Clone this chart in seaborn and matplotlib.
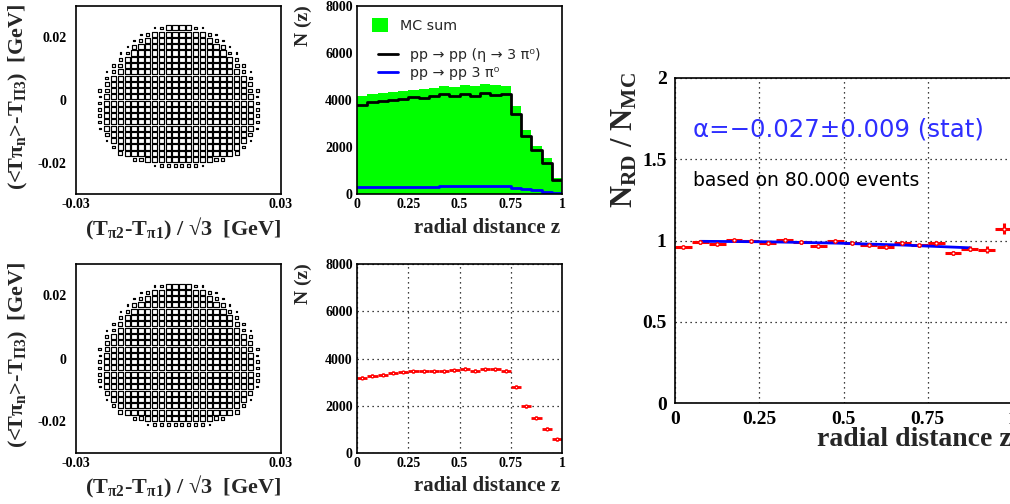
import matplotlib
matplotlib.use("Agg")
import matplotlib.pyplot as plt
from matplotlib.patches import Rectangle, Patch
from matplotlib.lines import Line2D
from matplotlib.collections import PatchCollection
import seaborn as sns
import pandas as pd

# --- Dalitz plots: right half of every row (mirrored to the left) ---
# cell k of a row is centred at x = (2k+1)*0.001 GeV
# '#' full box, 'O' medium, 'o' small, '.' tiny
dalitz_y = [0.023, 0.021, 0.019, 0.017, 0.015, 0.013, 0.011, 0.009, 0.007,
            0.005, 0.003, 0.001, -0.001, -0.003, -0.005, -0.007, -0.009,
            -0.011, -0.013, -0.015, -0.017, -0.019, -0.021]
dalitz_mc = ["##o.", "####o.", "#####o.", "######O.", "#######o.",
             "########o", "########Oo", "#########o.", "##########o",
             "##########O", "##########Oo", "###########.", "###########o",
             "###########o", "###########o", "###########o", "###########.",
             "##########O", "##########.", "#########o", "########O",
             "#####Oo", "ooo."]
dalitz_data = ["##o.", "####o.", "#####o.", "######O.", "#######o.",
               "########o", "########Oo", "#########o.", "##########o",
               "##########O", "##########Oo", "###########.", "###########o",
               "###########o", "###########o", "###########o", "###########.",
               "##########O", "##########.", "#########o", "########O",
               "#####Oo", "oooo."]
box_frac = {"#": 0.8, "O": 0.6, "o": 0.42, ".": 0.18}

# --- radial distance z, 20 bins of 0.05 ---
z_mid = [0.025, 0.075, 0.125, 0.175, 0.225, 0.275, 0.325, 0.375, 0.425, 0.475,
         0.525, 0.575, 0.625, 0.675, 0.725, 0.775, 0.825, 0.875, 0.925, 0.975]
mc_sum = [4150, 4250, 4300, 4350, 4380, 4430, 4460, 4490, 4575, 4550,
          4630, 4575, 4660, 4620, 4600, 3725, 2730, 2050, 1530, 680]
eta_3pi0 = [3800, 3910, 3970, 4010, 4050, 4110, 4080, 4150, 4250, 4160,
            4260, 4190, 4300, 4230, 4250, 3400, 2480, 1880, 1320, 610]
direct_3pi0 = [280, 290, 300, 300, 310, 310, 310, 310, 320, 320,
               320, 320, 330, 330, 330, 260, 200, 150, 100, 60]
data_counts = [3195, 3265, 3320, 3405, 3430, 3460, 3460, 3460, 3460, 3500,
               3575, 3475, 3535, 3535, 3475, 2810, 1980, 1485, 1030, 580]
data_err = [60] * 20

ratio = [0.961, 0.988, 0.979, 1.002, 0.996, 0.986, 1.006, 0.988, 0.967, 0.994,
         0.984, 0.975, 0.959, 0.984, 0.971, 0.984, 0.924, 0.949, 0.944, 1.072]
ratio_err = [0.008, 0.008, 0.008, 0.008, 0.008, 0.008, 0.008, 0.008, 0.008, 0.008,
             0.008, 0.008, 0.008, 0.008, 0.008, 0.01, 0.012, 0.015, 0.02, 0.035]
fit_z = [0.075, 0.275, 0.475, 0.675, 0.875]
fit_ratio = [0.995, 0.992, 0.984, 0.972, 0.955]

sns.set_style("white")
plt.rcParams['font.family'] = ['Liberation Serif', 'DejaVu Serif']
plt.rcParams['font.weight'] = 'bold'
plt.rcParams['mathtext.fontset'] = 'custom'
plt.rcParams['mathtext.rm'] = 'Liberation Serif:bold'
plt.rcParams['mathtext.it'] = 'Liberation Serif:bold'
plt.rcParams['mathtext.bf'] = 'Liberation Serif:bold'
SANS = 'DejaVu Sans'

W, H = 1010, 504
fig = plt.figure(figsize=(W / 100, H / 100), dpi=100)


def px_axes(x0, y0, x1, y1):
    return fig.add_axes([x0 / W, 1 - y1 / H, (x1 - x0) / W, (y1 - y0) / H])


def style(ax, size):
    for s in ax.spines.values():
        s.set_color('black')
        s.set_linewidth(1.2)
    ax.tick_params(direction='in', length=6, width=1.2, labelsize=size,
                   colors='black', pad=3)


def dalitz(ax, rows):
    recs = []
    for yv, row in zip(dalitz_y, rows):
        for k, c in enumerate(row):
            xv = (2 * k + 1) * 0.001
            recs.append((xv, yv, c))
            recs.append((-xv, yv, c))
    df = pd.DataFrame(recs, columns=['x', 'y', 'box'])
    boxes = []
    for _, r in df.iterrows():
        f = box_frac[r['box']]
        w, h = 0.002 * f, 0.002 * f
        boxes.append(Rectangle((r['x'] - w / 2, r['y'] - h / 2), w, h))
    ax.add_collection(PatchCollection(boxes, facecolor='white',
                                      edgecolor='black', linewidth=0.85))
    ax.set_xlim(-0.03, 0.03)
    ax.set_ylim(-0.03, 0.03)
    ax.set_xticks([-0.03, 0.03])
    ax.set_xticklabels(['-0.03', '0.03'])
    ax.set_yticks([-0.02, 0, 0.02])
    ax.set_yticklabels(['-0.02', '0', '0.02'])
    style(ax, 10)
    ax.tick_params(axis='x', length=0, pad=3)
    ax.tick_params(axis='y', length=7, pad=7)


# ---------- left column: Dalitz plots ----------
ax_d1 = px_axes(76, 6, 281, 194)
dalitz(ax_d1, dalitz_mc)
ax_d2 = px_axes(76, 264, 281, 453)
dalitz(ax_d2, dalitz_data)

xlab = '(T$_{\\pi2}$-T$_{\\pi1}$) / \u221a3  [GeV]'
ylab = '(<T\u03c0$_{n}$>-T$_{\\Pi3}$)  [GeV]'
fig.text(281 / W, 1 - 229 / H, xlab, ha='right', va='center', fontsize=16)
fig.text(281 / W, 1 - 487 / H, xlab, ha='right', va='center', fontsize=16)
fig.text(18 / W, 1 - 4 / H, ylab, ha='center', va='top', rotation=90, fontsize=16)
fig.text(18 / W, 1 - 262 / H, ylab, ha='center', va='top', rotation=90, fontsize=16)

# ---------- top middle: MC histograms ----------
mc = pd.DataFrame({'z': z_mid, 'sum': mc_sum, 'eta': eta_3pi0, 'direct': direct_3pi0})
ax_mc = px_axes(357, 6, 562, 194)
hist_kw = dict(data=mc, x='z', binwidth=0.05, binrange=(0, 1), element='step', ax=ax_mc)
sns.histplot(weights='sum', fill=True, color='#00ff00', alpha=1, linewidth=0, **hist_kw)
sns.histplot(weights='eta', fill=False, color='black', linewidth=2, **hist_kw)
sns.histplot(weights='direct', fill=False, color='#0000ff', linewidth=2, **hist_kw)
leg_prop = {'family': SANS, 'weight': 'normal', 'size': 10.3}
leg1 = ax_mc.legend(handles=[Patch(facecolor='#00ff00', edgecolor='none', label='MC sum')],
                    loc='center left', bbox_to_anchor=(0.073, 0.895), frameon=False,
                    prop=leg_prop, handlelength=1.12, handleheight=1.1,
                    handletextpad=0.84, borderpad=0, borderaxespad=0)
ax_mc.add_artist(leg1)
ax_mc.legend(handles=[Line2D([], [], color='black', lw=2, label='pp \u2192 pp (\u03b7 \u2192 3 \u03c0\u2070)'),
                      Line2D([], [], color='#0000ff', lw=2, label='pp \u2192 pp 3 \u03c0\u2070')],
             loc='center left', bbox_to_anchor=(0.102, 0.69), frameon=False,
             prop=leg_prop, handlelength=1.4, handletextpad=0.84,
             labelspacing=0.25, borderpad=0, borderaxespad=0)

# ---------- bottom middle: real data ----------
ax_rd = px_axes(357, 264, 562, 453)
ax_rd.errorbar(z_mid, data_counts, xerr=0.025, yerr=data_err, fmt='o', ms=2,
               mfc='white', mec='red', color='red', elinewidth=2, capsize=0)
ax_rd.grid(True, linestyle=(0, (1, 3)), color='black', linewidth=0.9)

for ax in (ax_mc, ax_rd):
    ax.set_xlim(0, 1)
    ax.set_ylim(0, 8000)
    ax.set_xticks([0, 0.25, 0.5, 0.75, 1])
    ax.set_xticklabels(['0', '0.25', '0.5', '0.75', '1'])
    ax.set_yticks([0, 2000, 4000, 6000, 8000])
    ax.set_yticklabels(['0', '2000', '4000', '6000', '8000'])
    ax.set_xlabel('')
    ax.set_ylabel('')
    style(ax, 10)

fig.text(560 / W, 1 - 228 / H, 'radial distance z', ha='right', va='center', fontsize=15)
fig.text(560 / W, 1 - 486 / H, 'radial distance z', ha='right', va='center', fontsize=15)
fig.text(303 / W, 1 - 5 / H, 'N (z)', ha='center', va='top', rotation=90, fontsize=14)
fig.text(303 / W, 1 - 263 / H, 'N (z)', ha='center', va='top', rotation=90, fontsize=14)

# ---------- right: ratio ----------
ax_r = px_axes(675, 78, 1012, 403)
ax_r.errorbar(z_mid, ratio, xerr=0.025, yerr=ratio_err, fmt='o', ms=2.5,
              mfc='white', mec='red', color='red', elinewidth=2.2, capsize=0)
sns.lineplot(x=fit_z, y=fit_ratio, color='#0000ff', linewidth=2, ax=ax_r)
ax_r.set_xlim(0, 1)
ax_r.set_ylim(0, 2)
ax_r.set_xticks([0, 0.25, 0.5, 0.75, 1])
ax_r.set_xticklabels(['0', '0.25', '0.5', '0.75', '1'])
ax_r.set_yticks([0, 0.5, 1, 1.5, 2])
ax_r.set_yticklabels(['0', '0.5', '1', '1.5', '2'])
ax_r.grid(True, linestyle=(0, (1, 3)), color='black', linewidth=0.9)
style(ax_r, 14)
ax_r.tick_params(length=0, pad=6)
ax_r.text(0.053, 0.84, '\u03b1=\u22120.027\u00b10.009 (stat)', transform=ax_r.transAxes,
          color='#2e2eff', fontsize=17.6, family=SANS, weight='normal', va='center')
ax_r.text(0.053, 0.686, 'based on 80.000 events', transform=ax_r.transAxes,
          color='black', fontsize=13.5, family=SANS, weight='normal', va='center')
fig.text(1012 / W, 1 - 439 / H, 'radial distance z', ha='right', va='center', fontsize=20)
fig.text(625 / W, 1 - 72 / H, 'N$_{RD}$ / N$_{MC}$', ha='center', va='top',
         rotation=90, fontsize=22)

fig.savefig('out.png', dpi=100, facecolor='white')
